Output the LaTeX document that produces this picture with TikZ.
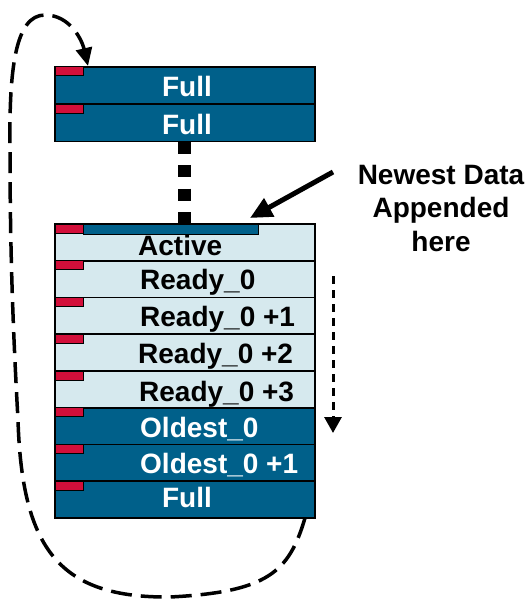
\documentclass[tikz,border=0pt]{standalone}
\usepackage{fontspec}
\setmainfont{Liberation Sans}
\usetikzlibrary{arrows.meta}

\definecolor{blkdark}{HTML}{00608A}
\definecolor{blklight}{HTML}{D6E9EE}
\definecolor{flagred}{HTML}{D20F3A}

\tikzset{
  slot/.style={draw=black, line width=1.6pt, minimum width=260pt,
    minimum height=36.75pt, inner sep=0pt, outer sep=0pt, anchor=north west},
  fullslot/.style={slot, fill=blkdark},
  readyslot/.style={slot, fill=blklight},
  flag/.style={draw=black, line width=1pt, fill=flagred, minimum width=28pt,
    minimum height=9pt, inner sep=0pt, outer sep=0pt, anchor=north west},
  lbl/.style={font=\bfseries\fontsize{28}{33.5}\selectfont, inner sep=0pt},
  lblw/.style={lbl, text=white},
  lblk/.style={lbl, text=black},
  chainlink/.style={line width=13pt, dash pattern=on 12pt off 11.5pt},
  cycleline/.style={line width=3.5pt, dash pattern=on 21pt off 9pt,
    -{Triangle[length=18pt,width=16pt]}},
  orderline/.style={line width=3pt, dash pattern=on 8pt off 6pt,
    -{Triangle[length=16pt,width=17pt]}},
  pointer/.style={line width=5pt, -{Triangle[length=22pt,width=20pt]}},
}

\begin{document}
\begin{tikzpicture}[x=1pt, y=-1pt]
  \useasboundingbox (0,0) rectangle (531,599);

  % upper stack of full blocks
  \node[fullslot, minimum height=37.3pt] (f1) at (55,67) {};
  \node[fullslot, minimum height=37.3pt] (f2) at (55,104.3) {};
  \node[flag] (f1flag) at (55,67) {};
  \node[flag] (f2flag) at (55,104.3) {};
  \node[lblw, anchor=base] (f1txt) at (187,97) {Full};
  \node[lblw, anchor=base] (f2txt) at (187,135) {Full};

  % lower stack
  \node[readyslot] (r1) at (55,224) {};
  \node[readyslot] (r2) at (55,260.75) {};
  \node[readyslot] (r3) at (55,297.5) {};
  \node[readyslot] (r4) at (55,334.25) {};
  \node[readyslot] (r5) at (55,371) {};
  \node[fullslot]  (r6) at (55,407.75) {};
  \node[fullslot]  (r7) at (55,444.5) {};
  \node[fullslot]  (r8) at (55,481.25) {};

  % write position bar in the active block
  \node[draw=black, line width=1pt, fill=blkdark, minimum width=175pt,
        minimum height=10pt, inner sep=0pt, anchor=north west] (fillbar) at (83,224) {};
  \node[flag] (r1flag) at (55,224) {};
  \node[flag] (r2flag) at (55,260.75) {};
  \node[flag] (r3flag) at (55,297.5) {};
  \node[flag] (r4flag) at (55,334.25) {};
  \node[flag] (r5flag) at (55,371) {};
  \node[flag] (r6flag) at (55,407.75) {};
  \node[flag] (r7flag) at (55,444.5) {};
  \node[flag] (r8flag) at (55,481.25) {};

  \node[lblk, anchor=base west] (r1txt) at (138,255) {Active};
  \node[lblk, anchor=base west] (r2txt) at (140,289) {Ready\_0};
  \node[lblk, anchor=base west] (r3txt) at (140,326) {Ready\_0 +1};
  \node[lblk, anchor=base west] (r4txt) at (138,363) {Ready\_0 +2};
  \node[lblk, anchor=base west] (r5txt) at (139,401) {Ready\_0 +3};
  \node[lblw, anchor=base west] (r6txt) at (140,437) {Oldest\_0};
  \node[lblw, anchor=base west] (r7txt) at (140,473) {Oldest\_0 +1};
  \node[lblw, anchor=base] (r8txt) at (187,507) {Full};

  % chain between the two stacks
  \draw[chainlink] (184.5,141.6) coordinate (chaintop) -- (184.5,224) coordinate (chainbot);

  % label and pointer to the write position
  \node[lblk, align=center, anchor=north] (newest) at (441,165)
    {Newest Data\\Appended\\here};
  \coordinate (ptrstart) at (333,172);
  \coordinate (ptrend) at (250,218);
  \draw[pointer] (ptrstart) -- (ptrend);

  % ageing direction
  \coordinate (agetop) at (333,276);
  \coordinate (agebot) at (333,433);
  \draw[orderline] (agetop) -- (agebot);

  % recycle loop from the bottom block back to the top
  \coordinate (loopstart) at (305,518);
  \coordinate (looptip) at (88,66);
  \draw[cycleline] (loopstart)
    .. controls (289,572) and (268,592) .. (170,597)
    .. controls (60,598) and (22,550) .. (18,420)
    .. controls (13,330) and (10,250) .. (10,150)
    .. controls (9,70) and (15,15) .. (45,15)
    .. controls (70,15) and (82,40) .. (looptip);
\end{tikzpicture}
\end{document}
